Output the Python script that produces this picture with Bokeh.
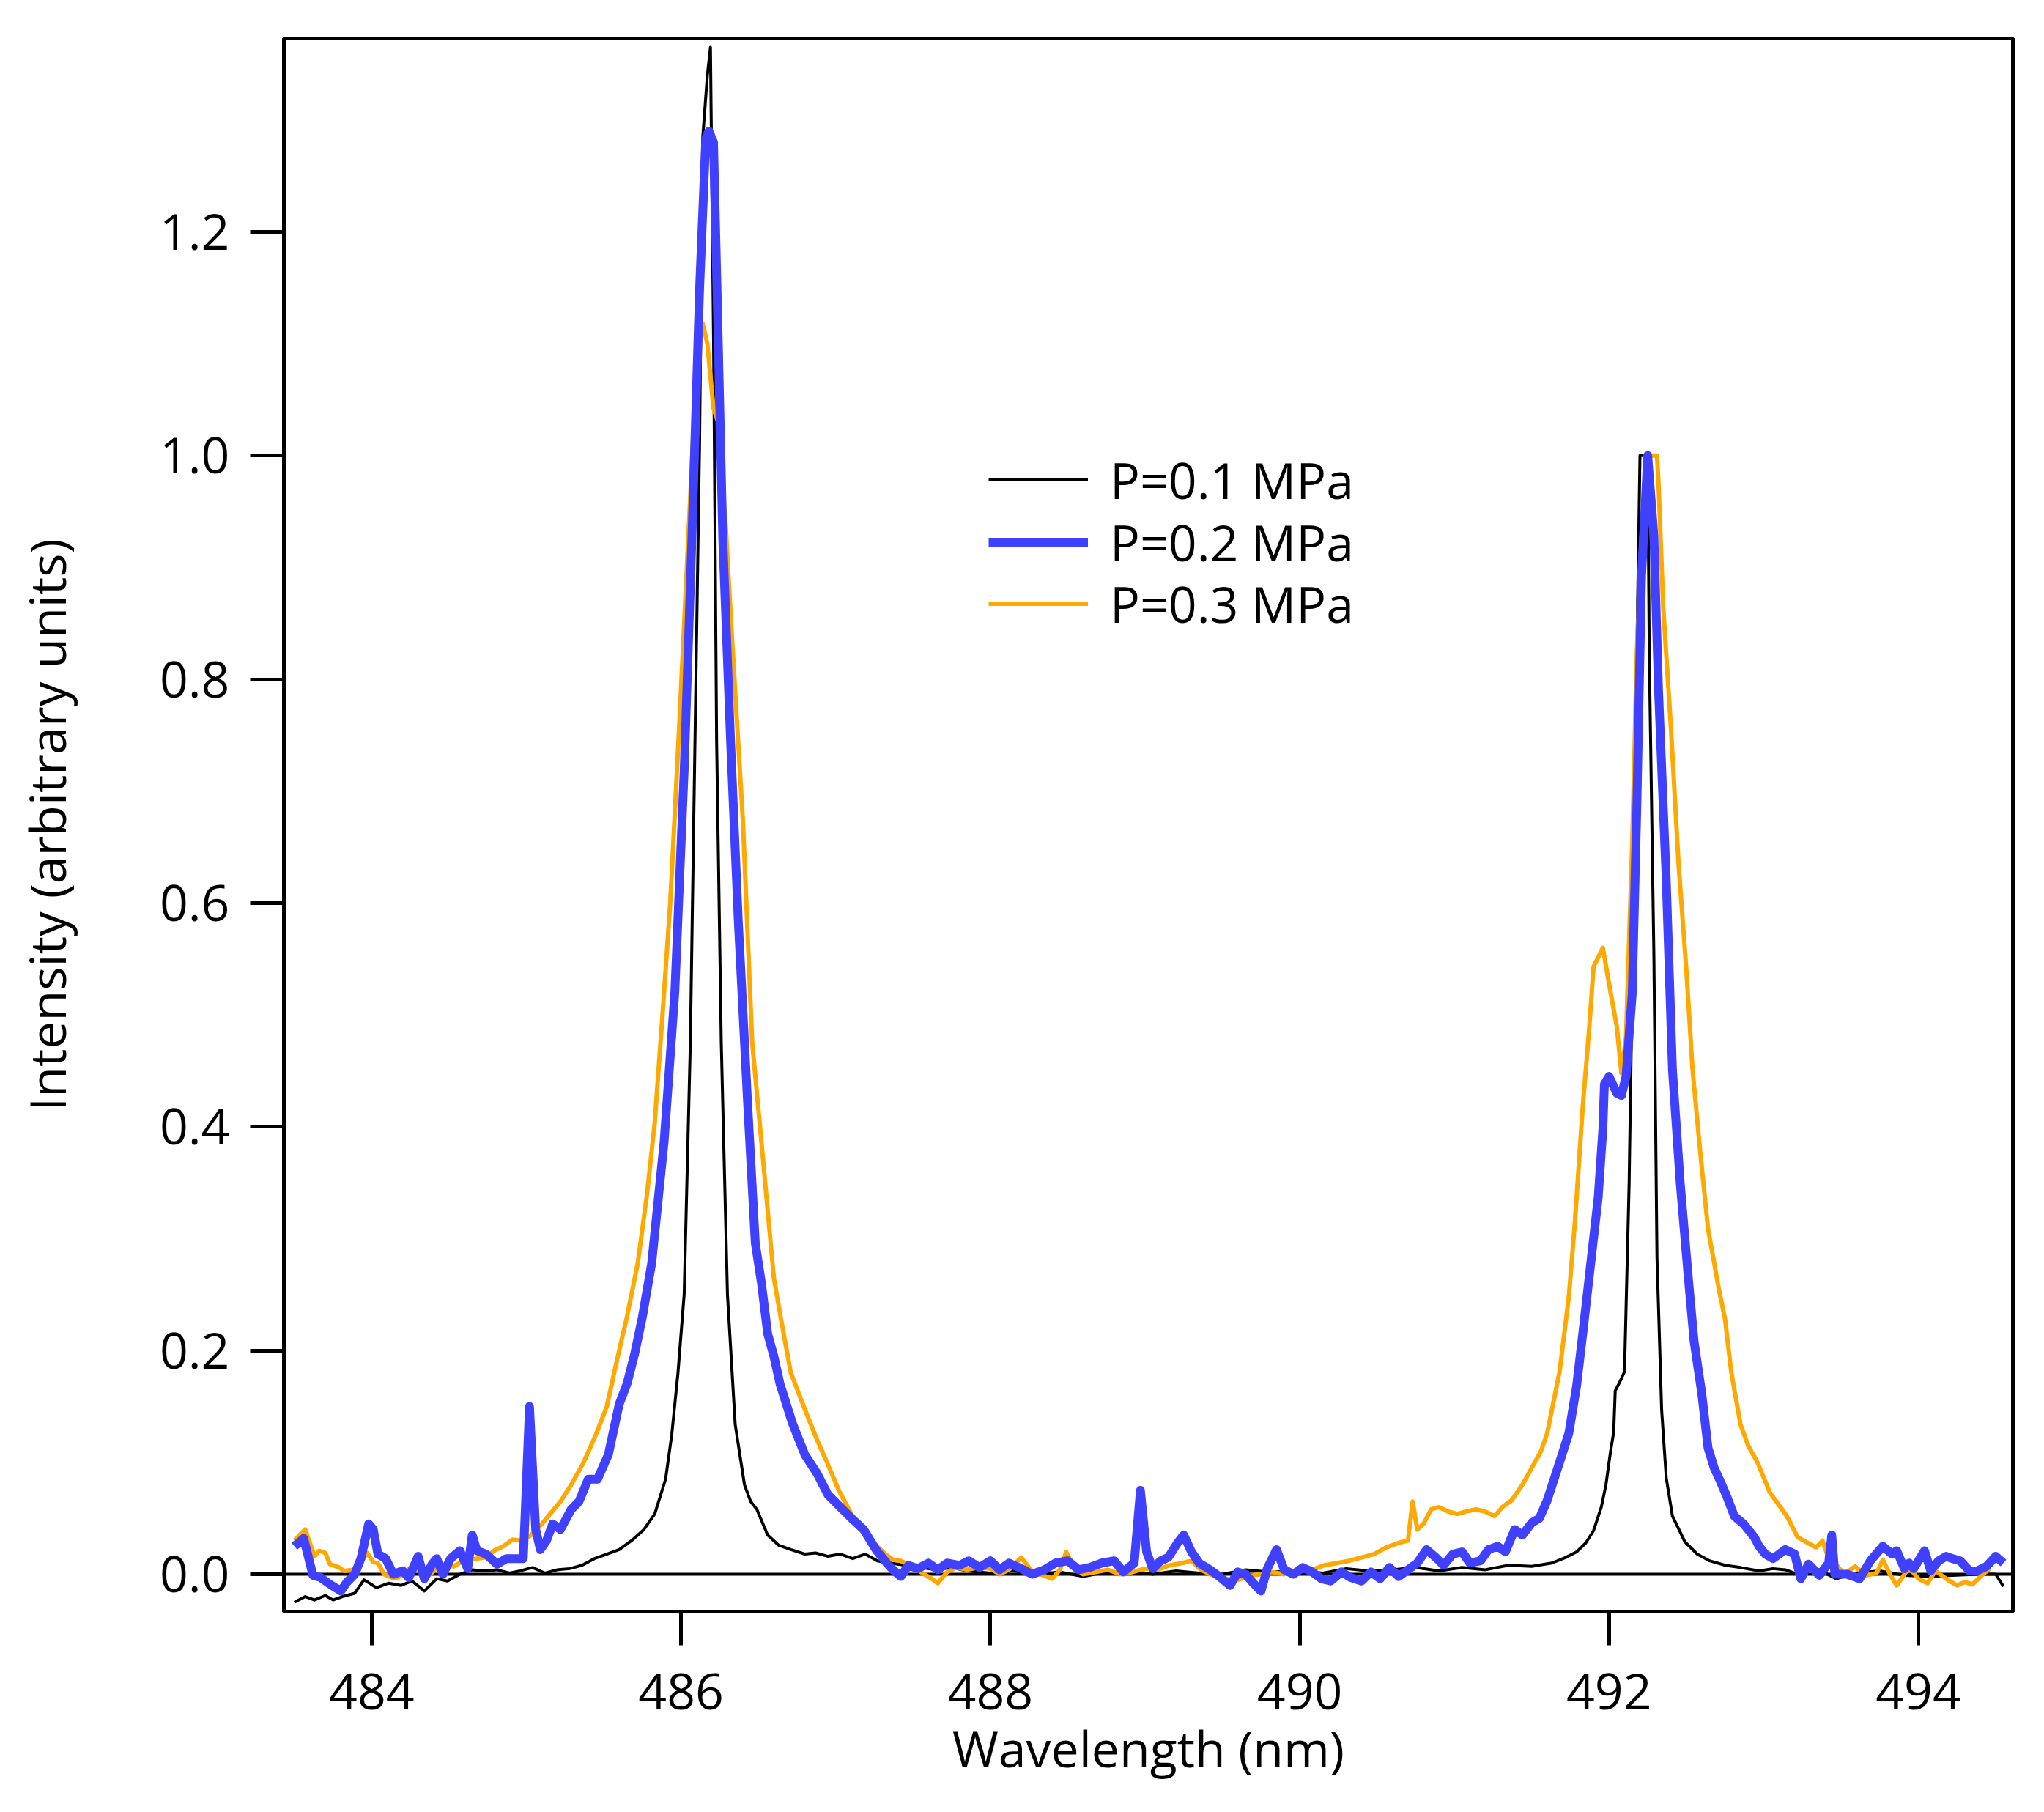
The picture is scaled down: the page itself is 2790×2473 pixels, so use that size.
from bokeh.plotting import figure
from bokeh.models import Range1d, FixedTicker, PrintfTickFormatter, Span, Legend, LegendItem
from bokeh.embed import file_html
from bokeh.resources import INLINE

# ---------------- data ----------------
wl_01 = [483.50, 483.57, 483.63, 483.70, 483.75, 483.81, 483.89, 483.95, 484.03, 484.11,
         484.19, 484.26, 484.34, 484.42, 484.49, 484.57, 484.65, 484.73, 484.81, 484.89,
         484.96, 485.04, 485.12, 485.20, 485.28, 485.36, 485.44, 485.52, 485.60, 485.68,
         485.76, 485.83, 485.90, 485.94, 485.98, 486.02, 486.06, 486.09, 486.12, 486.14,
         486.17, 486.19, 486.21, 486.23, 486.26, 486.30, 486.35, 486.41, 486.45, 486.49,
         486.56, 486.63, 486.71, 486.80, 486.87, 486.95, 487.03, 487.11, 487.19, 487.27,
         487.35, 487.45, 487.55, 487.65, 487.75, 487.85, 488.00, 488.15, 488.30, 488.45,
         488.60, 488.75, 488.90, 489.05, 489.20, 489.35, 489.50, 489.65, 489.80, 490.00,
         490.15, 490.30, 490.45, 490.60, 490.75, 490.90, 491.05, 491.20, 491.35, 491.50,
         491.63, 491.72, 491.79, 491.85, 491.90, 491.95, 491.98, 492.01, 492.03, 492.04,
         492.07, 492.10, 492.13, 492.16, 492.18, 492.20, 492.25, 492.26, 492.29, 492.31,
         492.34, 492.37, 492.41, 492.49, 492.57, 492.65, 492.75, 492.85, 492.97, 493.06,
         493.14, 493.22, 493.34, 493.47, 493.59, 493.75, 493.91, 494.07, 494.22, 494.38,
         494.50, 494.55]
int_01 = [-0.025, -0.020, -0.023, -0.019, -0.023, -0.020, -0.017, -0.005, -0.012, -0.008,
          -0.010, -0.006, -0.015, -0.004, -0.006, 0.000, 0.004, 0.003, 0.004, 0.001,
          0.003, 0.006, 0.001, 0.004, 0.005, 0.008, 0.014, 0.018, 0.022, 0.030,
          0.040, 0.054, 0.085, 0.125, 0.180, 0.250, 0.475, 0.745, 1.015, 1.284,
          1.340, 1.365, 1.105, 0.745, 0.475, 0.250, 0.134, 0.080, 0.065, 0.058,
          0.035, 0.026, 0.022, 0.018, 0.019, 0.016, 0.018, 0.014, 0.018, 0.012,
          0.010, 0.008, 0.006, 0.004, 0.006, 0.003, 0.001, 0.003, 0.000, 0.002,
          -0.002, 0.002, 0.003, 0.000, 0.003, 0.001, 0.000, 0.004, 0.002, 0.003,
          0.001, 0.005, 0.003, 0.004, 0.006, 0.003, 0.006, 0.004, 0.008, 0.007,
          0.010, 0.015, 0.020, 0.028, 0.039, 0.060, 0.080, 0.110, 0.127, 0.164,
          0.172, 0.181, 0.350, 0.620, 0.824, 1.000, 1.000, 0.824, 0.553, 0.283,
          0.147, 0.086, 0.052, 0.029, 0.018, 0.012, 0.008, 0.006, 0.003, 0.005,
          0.004, 0.000, 0.005, -0.004, 0.001, 0.003, -0.001, -0.002, -0.001, 0.000,
          0.000, -0.011]

wl_02 = [483.50, 483.56, 483.62, 483.67, 483.73, 483.80, 483.84, 483.89, 483.93, 483.98,
         484.01, 484.04, 484.09, 484.14, 484.20, 484.24, 484.30, 484.34, 484.39, 484.42,
         484.46, 484.51, 484.57, 484.62, 484.65, 484.68, 484.74, 484.81, 484.87, 484.98,
         485.02, 485.06, 485.09, 485.13, 485.17, 485.22, 485.29, 485.34, 485.40, 485.46,
         485.53, 485.60, 485.65, 485.70, 485.75, 485.81, 485.89, 485.96, 486.02, 486.07,
         486.12, 486.16, 486.18, 486.21, 486.24, 486.27, 486.32, 486.37, 486.43, 486.48,
         486.52, 486.56, 486.60, 486.64, 486.72, 486.80, 486.88, 486.95, 487.03, 487.11,
         487.18, 487.26, 487.33, 487.37, 487.42, 487.47, 487.53, 487.60, 487.66, 487.72,
         487.80, 487.86, 487.93, 488.00, 488.06, 488.12, 488.20, 488.27, 488.35, 488.42,
         488.50, 488.57, 488.64, 488.72, 488.80, 488.86, 488.93, 488.97, 489.01, 489.05,
         489.10, 489.15, 489.21, 489.25, 489.30, 489.35, 489.42, 489.48, 489.55, 489.60,
         489.65, 489.70, 489.75, 489.79, 489.85, 489.90, 489.96, 490.02, 490.08, 490.14,
         490.20, 490.27, 490.33, 490.40, 490.46, 490.52, 490.58, 490.64, 490.70, 490.76,
         490.82, 490.88, 490.93, 490.99, 491.05, 491.10, 491.17, 491.22, 491.28, 491.33,
         491.39, 491.44, 491.50, 491.55, 491.60, 491.68, 491.74, 491.79, 491.83, 491.88,
         491.93, 491.96, 491.97, 492.00, 492.05, 492.08, 492.11, 492.15, 492.18, 492.21,
         492.25, 492.29, 492.32, 492.37, 492.41, 492.46, 492.51, 492.55, 492.60, 492.64,
         492.68, 492.72, 492.76, 492.81, 492.87, 492.94, 492.97, 493.01, 493.06, 493.10,
         493.14, 493.20, 493.24, 493.29, 493.36, 493.42, 493.44, 493.46, 493.54, 493.62,
         493.69, 493.77, 493.83, 493.86, 493.91, 493.94, 493.97, 494.04, 494.08, 494.13,
         494.18, 494.22, 494.27, 494.33, 494.38, 494.44, 494.50, 494.55]
int_02 = [0.025, 0.032, -0.001, -0.003, -0.009, -0.015, -0.007, 0.000, 0.014, 0.045,
          0.040, 0.018, 0.014, 0.000, 0.003, -0.003, 0.016, -0.004, 0.009, 0.014,
          0.000, 0.014, 0.021, 0.005, 0.035, 0.021, 0.018, 0.009, 0.014, 0.014,
          0.150, 0.040, 0.022, 0.030, 0.045, 0.040, 0.058, 0.065, 0.085, 0.085,
          0.107, 0.152, 0.170, 0.197, 0.230, 0.278, 0.386, 0.521, 0.718, 0.925,
          1.150, 1.284, 1.290, 1.280, 1.105, 0.925, 0.745, 0.584, 0.422, 0.296,
          0.260, 0.215, 0.195, 0.170, 0.135, 0.107, 0.090, 0.071, 0.060, 0.049,
          0.040, 0.022, 0.010, 0.004, -0.002, 0.008, 0.005, 0.010, 0.004, 0.010,
          0.008, 0.012, 0.006, 0.012, 0.004, 0.010, 0.005, 0.000, 0.004, 0.010,
          0.012, 0.004, 0.006, 0.010, 0.012, 0.002, 0.010, 0.075, 0.020, 0.005,
          0.012, 0.015, 0.028, 0.035, 0.020, 0.010, 0.004, -0.002, -0.010, 0.002,
          0.000, -0.008, -0.015, 0.005, 0.022, 0.004, 0.000, 0.006, 0.002, -0.004,
          -0.006, 0.002, -0.003, -0.006, 0.002, -0.004, 0.006, -0.002, 0.004, 0.010,
          0.022, 0.015, 0.008, 0.018, 0.020, 0.010, 0.012, 0.022, 0.025, 0.020,
          0.040, 0.035, 0.046, 0.050, 0.066, 0.100, 0.126, 0.168, 0.215, 0.276,
          0.337, 0.398, 0.438, 0.445, 0.430, 0.428, 0.445, 0.519, 0.688, 0.892,
          1.000, 0.928, 0.790, 0.620, 0.451, 0.350, 0.269, 0.208, 0.161, 0.113,
          0.095, 0.083, 0.070, 0.052, 0.045, 0.033, 0.025, 0.018, 0.014, 0.018,
          0.022, 0.018, -0.004, 0.009, -0.001, 0.010, 0.035, 0.000, 0.000, -0.004,
          0.012, 0.025, 0.018, 0.021, 0.005, 0.010, 0.005, 0.021, 0.003, 0.012,
          0.016, 0.014, 0.012, 0.003, 0.003, 0.007, 0.016, 0.010]

wl_03 = [483.50, 483.57, 483.63, 483.66, 483.70, 483.73, 483.79, 483.82, 483.88, 483.93,
         483.97, 484.01, 484.04, 484.08, 484.13, 484.17, 484.25, 484.30, 484.38, 484.44,
         484.53, 484.59, 484.68, 484.74, 484.79, 484.85, 484.91, 484.97, 485.03, 485.10,
         485.16, 485.22, 485.29, 485.37, 485.45, 485.52, 485.58, 485.65, 485.72, 485.78,
         485.83, 485.88, 485.93, 485.99, 486.04, 486.09, 486.12, 486.14, 486.17, 486.21,
         486.24, 486.29, 486.33, 486.40, 486.46, 486.52, 486.60, 486.65, 486.71, 486.81,
         486.88, 486.95, 487.02, 487.10, 487.18, 487.26, 487.32, 487.37, 487.42, 487.48,
         487.55, 487.62, 487.66, 487.72, 487.78, 487.85, 487.92, 488.00, 488.06, 488.12,
         488.20, 488.26, 488.32, 488.40, 488.45, 488.49, 488.54, 488.60, 488.68, 488.76,
         488.84, 488.92, 489.00, 489.08, 489.16, 489.24, 489.30, 489.36, 489.42, 489.50,
         489.58, 489.66, 489.74, 489.82, 489.90, 490.00, 490.08, 490.16, 490.24, 490.32,
         490.40, 490.48, 490.56, 490.64, 490.70, 490.73, 490.76, 490.80, 490.85, 490.90,
         490.96, 491.02, 491.07, 491.14, 491.20, 491.26, 491.31, 491.37, 491.44, 491.52,
         491.56, 491.60, 491.68, 491.74, 491.78, 491.83, 491.87, 491.90, 491.96, 492.01,
         492.05, 492.08, 492.11, 492.15, 492.18, 492.21, 492.24, 492.27, 492.31, 492.32,
         492.35, 492.40, 492.45, 492.50, 492.54, 492.59, 492.64, 492.71, 492.75, 492.79,
         492.85, 492.90, 492.96, 493.04, 493.15, 493.22, 493.30, 493.34, 493.38, 493.42,
         493.46, 493.52, 493.59, 493.66, 493.73, 493.77, 493.82, 493.86, 493.94, 494.00,
         494.06, 494.11, 494.19, 494.25, 494.30, 494.35, 494.41, 494.46]
int_03 = [0.030, 0.040, 0.016, 0.021, 0.019, 0.009, 0.006, 0.003, 0.004, 0.011,
          0.019, 0.011, 0.010, 0.000, -0.003, -0.003, 0.006, 0.003, 0.000, 0.009,
          0.007, 0.012, 0.014, 0.015, 0.021, 0.025, 0.031, 0.030, 0.035, 0.045,
          0.055, 0.065, 0.080, 0.100, 0.125, 0.150, 0.188, 0.230, 0.278, 0.340,
          0.404, 0.500, 0.600, 0.763, 0.907, 1.050, 1.109, 1.118, 1.100, 1.042,
          1.030, 0.934, 0.835, 0.673, 0.475, 0.386, 0.265, 0.225, 0.180, 0.144,
          0.120, 0.098, 0.075, 0.054, 0.040, 0.026, 0.018, 0.013, 0.012, 0.008,
          0.002, -0.004, -0.008, 0.002, 0.006, 0.004, 0.006, 0.005, 0.000, 0.004,
          0.015, 0.004, 0.000, -0.004, 0.004, 0.020, 0.006, 0.000, 0.002, 0.004,
          0.000, 0.002, 0.005, 0.004, 0.008, 0.010, 0.012, 0.004, 0.000, -0.003,
          -0.006, -0.002, 0.000, 0.002, 0.000, 0.005, 0.004, 0.008, 0.010, 0.012,
          0.015, 0.018, 0.024, 0.028, 0.030, 0.065, 0.040, 0.045, 0.058, 0.060,
          0.056, 0.054, 0.056, 0.058, 0.056, 0.052, 0.060, 0.066, 0.080, 0.100,
          0.110, 0.126, 0.181, 0.248, 0.316, 0.418, 0.485, 0.543, 0.560, 0.520,
          0.490, 0.448, 0.480, 0.654, 0.824, 0.926, 0.990, 1.000, 1.000, 0.975,
          0.865, 0.757, 0.634, 0.540, 0.451, 0.377, 0.309, 0.255, 0.228, 0.181,
          0.134, 0.115, 0.100, 0.073, 0.052, 0.033, 0.027, 0.024, 0.030, 0.014,
          0.010, 0.000, 0.007, -0.001, 0.001, 0.013, -0.001, -0.010, 0.006, -0.004,
          -0.008, 0.003, -0.005, -0.010, -0.007, -0.009, -0.001, 0.005]

series_labels = ["P=0.1 MPa", "P=0.2 MPa", "P=0.3 MPa"]
x_ticks = [484, 486, 488, 490, 492, 494]
y_ticks = [0.0, 0.2, 0.4, 0.6, 0.8, 1.0, 1.2]

# ---------------- figure ----------------
FONT = "Open Sans"
FS = "68px"

p = figure(width=2774, height=2457, output_backend="svg", toolbar_location=None,
           x_range=Range1d(483.432, 494.611), y_range=Range1d(-0.0334, 1.3729),
           min_border_left=387, min_border_right=27, min_border_top=52,
           min_border_bottom=258)
p.background_fill_color = "white"
p.border_fill_color = "white"
p.outline_line_color = "black"
p.outline_line_width = 5
p.xgrid.visible = False
p.ygrid.visible = False

for ax in (p.xaxis[0], p.yaxis[0]):
    ax.axis_line_width = 5
    ax.axis_line_color = "black"
    ax.major_tick_line_width = 5
    ax.major_tick_line_color = "black"
    ax.major_tick_out = 46
    ax.major_tick_in = 0
    ax.minor_tick_line_color = None
    ax.major_label_text_font = FONT
    ax.major_label_text_font_size = FS
    ax.major_label_text_color = "black"
    ax.axis_label_text_font = FONT
    ax.axis_label_text_font_size = FS
    ax.axis_label_text_font_style = "normal"
    ax.axis_label_text_color = "black"

p.xaxis[0].ticker = FixedTicker(ticks=x_ticks)
p.xaxis[0].axis_label = "Wavelength (nm)"
p.xaxis[0].major_label_standoff = 38
p.xaxis[0].axis_label_standoff = 3

p.yaxis[0].ticker = FixedTicker(ticks=y_ticks)
p.yaxis[0].formatter = PrintfTickFormatter(format="%.1f")
p.yaxis[0].axis_label = "Intensity (arbitrary units)"
p.yaxis[0].major_label_standoff = 28
p.yaxis[0].axis_label_standoff = 105

zero = Span(location=0, dimension="width", line_color="black", line_width=4, level="underlay")
p.add_layout(zero)

r1 = p.line(wl_01, int_01, line_color="black", line_width=4, line_join="round")
r3 = p.line(wl_03, int_03, line_color="#FFA800", line_width=6, line_join="round")
r2 = p.line(wl_02, int_02, line_color="#4040FF", line_width=12, line_join="round")

# one single-item legend per row, so that the row pitch can match the original
row_offsets = [1498, 1413, 1329]
for lab, rend, vy in zip(series_labels, [r1, r2, r3], row_offsets):
    lg = Legend(items=[LegendItem(label=lab, renderers=[rend])], location=(962, vy))
    lg.padding = 0
    lg.margin = 0
    lg.spacing = 0
    lg.glyph_width = 136
    lg.glyph_height = 93
    lg.label_height = 93
    lg.label_standoff = 30
    lg.label_text_font = FONT
    lg.label_text_font_size = FS
    lg.label_text_color = "black"
    lg.border_line_alpha = 0
    lg.background_fill_alpha = 0
    p.add_layout(lg)

open("out.html", "w").write(file_html(p, INLINE))
